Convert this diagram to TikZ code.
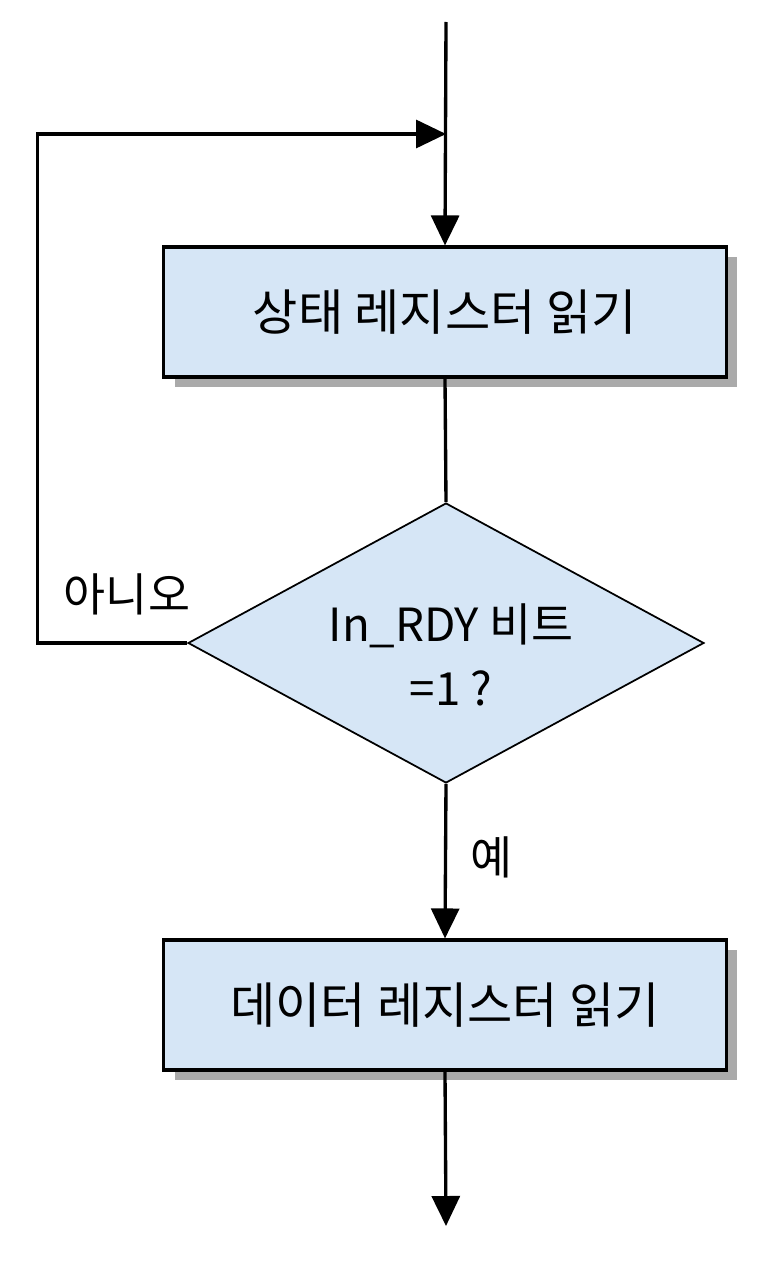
\documentclass[tikz,border=0pt]{standalone}
\usepackage{fontspec}
\setmainfont{Noto Sans CJK KR}
\usepackage{tikz}
\usetikzlibrary{shapes.geometric,arrows.meta,shadows}
\definecolor{boxblue}{RGB}{214,230,246}
\definecolor{shadegray}{RGB}{170,170,170}

\begin{document}
\begin{tikzpicture}[x=0.02cm,y=-0.02cm,
	procbox/.style={draw,line width=1.8pt,fill=boxblue,minimum width=11.26cm,minimum height=2.6cm,inner sep=0pt,
		drop shadow={shadow xshift=0.22cm,shadow yshift=-0.2cm,fill=shadegray,opacity=1},
		font=\fontsize{28}{34}\selectfont},
	decision/.style={draw,diamond,line width=1pt,fill=boxblue,shape aspect=1.84,minimum width=10.32cm,minimum height=5.6cm,
		inner sep=0pt},
	dtext/.style={align=center,inner sep=0pt,font=\fontsize{26}{36}\selectfont},
	lbl/.style={font=\fontsize{26}{30}\selectfont},
	flow/.style={line width=1.9pt,-{Triangle[length=0.6cm,width=0.56cm]}}]
				\useasboundingbox (0,0) rectangle (776,1274);

				\coordinate (top) at (446,22);
				\coordinate (join) at (446,134);
				\coordinate (bottom) at (446,1226);

				\node[procbox] (stat) at (445,312) {상태 레지스터 읽기};
				\node[decision] (rdy) at (446,643) {};
				\node[dtext] (rdytext) at (451,655) {In\_RDY 비트\\=1 ?};
				\node[procbox] (data) at (445,1005) {데이터 레지스터 읽기};

				\draw[flow] (top) -- (stat.north);
				\draw[line width=1.9pt] (stat.south) -- (rdy.north);
				\draw[flow] (rdy.west) -- ++(-150,0) |- (join);
				\draw[flow] (rdy.south) -- (data.north);
				\draw[flow] (data.south) -- (bottom);

				\node[lbl] (no) at (127,594) {아니오};
				\node[lbl] (yes) at (492,857) {예};
			\end{tikzpicture}
\end{document}
